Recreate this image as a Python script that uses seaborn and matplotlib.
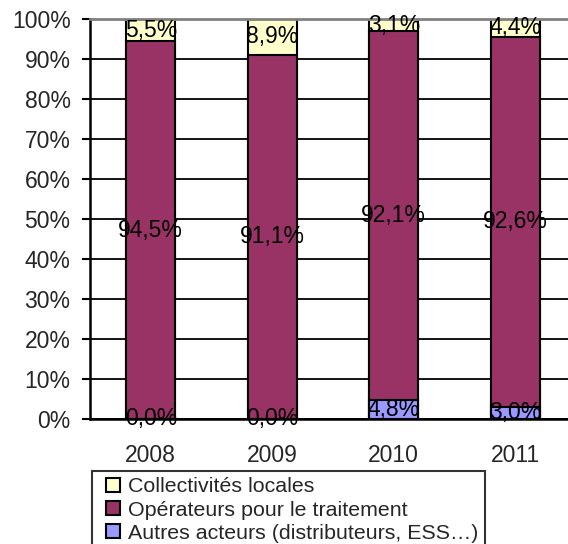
import pandas as pd
import matplotlib.pyplot as plt
import seaborn as sns
from matplotlib.lines import Line2D

years = ['2008', '2009', '2010', '2011']
collectivites = [5.5, 8.9, 3.1, 4.4]
operateurs = [94.5, 91.1, 92.1, 92.6]
autres = [0.0, 0.0, 4.8, 3.0]

series_names = ['Collectivités locales', 'Opérateurs pour le traitement',
                'Autres acteurs (distributeurs, ESS…)']
colors = ['#FFFFCC', '#993366', '#9999FF']

df = pd.DataFrame({'year': years, 'coll': collectivites, 'oper': operateurs, 'autres': autres})
df['cum_autres'] = df['autres']
df['cum_oper'] = df['autres'] + df['oper']
df['cum_coll'] = df['cum_oper'] + df['coll']

sns.set_style('white')
plt.rcParams['font.family'] = ['Liberation Sans', 'DejaVu Sans']

fig = plt.figure(figsize=(5.68, 5.44), dpi=100)
ax = fig.add_axes([90 / 568, 125 / 544, 486 / 568, 400 / 544])

# stacked bars drawn as overlapping cumulative totals
for col, c in [('cum_coll', colors[0]), ('cum_oper', colors[1]), ('cum_autres', colors[2])]:
    sns.barplot(data=df, x='year', y=col, color=c, saturation=1, width=0.4,
                edgecolor='black', linewidth=1.5, errorbar=None, ax=ax)

# data labels at segment centres
fs = 16.5
for i in range(len(years)):
    a, o, c = autres[i], operateurs[i], collectivites[i]
    for val, mid in [(a, a / 2), (o, a + o / 2), (c, a + o + c / 2)]:
        ax.text(i, mid, f'{val:.1f}%'.replace('.', ','), ha='center', va='center',
                fontsize=fs, color='black')

ax.set_xlim(-0.5, 3.5)
ax.set_ylim(0, 100)
ax.set_yticks(range(0, 101, 10))
ax.set_yticklabels([f'{v}%' for v in range(0, 101, 10)], fontsize=fs)
ax.set_xticks(range(len(years)))
ax.set_xticklabels(years, fontsize=fs)
ax.set_xticks([-0.5, 0.5, 1.5, 2.5, 3.5], minor=True)
ax.tick_params(axis='x', which='major', length=0, pad=18)
ax.tick_params(axis='x', which='minor', length=6, width=1.5, direction='out', color='black')
ax.tick_params(axis='y', length=6, width=1.5, direction='out', color='black', pad=8, left=True)
ax.set_xlabel('')
ax.set_ylabel('')

ax.set_axisbelow(True)
ax.grid(axis='y', color='black', linewidth=1.3)
ax.grid(axis='x', visible=False)
ax.spines['right'].set_visible(False)
ax.spines['top'].set_color('#808080')
ax.spines['top'].set_linewidth(2)
ax.spines['left'].set_color('black')
ax.spines['left'].set_linewidth(1.8)
ax.spines['bottom'].set_color('black')
ax.spines['bottom'].set_linewidth(1.8)

handles = [Line2D([0], [0], marker='s', linestyle='', markersize=9.5,
                  markerfacecolor=c, markeredgecolor='black', markeredgewidth=1.5)
           for c in colors]
leg = fig.legend(handles, series_names, loc='upper left',
                 bbox_to_anchor=(92 / 568, 1 - 471 / 544), fontsize=15.4,
                 frameon=True, fancybox=False, edgecolor='black', borderpad=0.3,
                 labelspacing=0.2, handlelength=1.4, handletextpad=0.0,
                 borderaxespad=0)
leg.get_frame().set_linewidth(1.5)

fig.savefig('out.png', dpi=100)
